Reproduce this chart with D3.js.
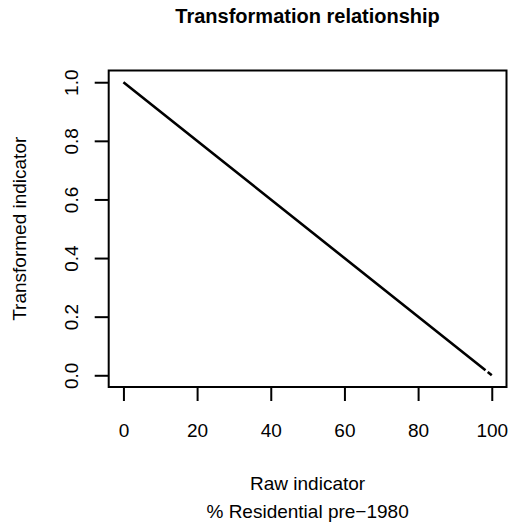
<!DOCTYPE html>
<html>
<head>
<meta charset="utf-8">
<script src="https://cdn.jsdelivr.net/npm/d3@7"></script>
<style>
  html, body { margin: 0; padding: 0; background: #fff; }
  svg text { font-family: "Liberation Sans", Arial, Helvetica, sans-serif; fill: #000; }
</style>
</head>
<body>
<svg id="chart" width="510" height="525"></svg>
<script>
// Raw indicator (% residential pre-1980) and its transformed score.
// A null entry marks a gap in the drawn curve.
const rawValues = [0, 25, 50, 75, 98.3, null, 98.9, 100];
const transformedValues = [1.0, 0.75, 0.5, 0.25, 0.017, null, 0.011, 0.0];

const xTicks = [0, 20, 40, 60, 80, 100];
const yTicks = [0.0, 0.2, 0.4, 0.6, 0.8, 1.0];
const yTickLabels = ["0.0", "0.2", "0.4", "0.6", "0.8", "1.0"];

const chartTitle = "Transformation relationship";
const xTitleLines = ["Raw indicator", "% Residential pre\u22121980"];
const yTitle = "Transformed indicator";

const svg = d3.select("#chart");
const fontSize = 19;

// Plot region with a 4% padding on each axis range
const x = d3.scaleLinear().domain([-4, 104]).range([108.7, 506.5]);
const y = d3.scaleLinear().domain([-0.04, 1.04]).range([387, 70.5]);

// Frame
svg.append("rect")
  .attr("x", x(-4)).attr("y", y(1.04))
  .attr("width", x(104) - x(-4)).attr("height", y(-0.04) - y(1.04))
  .attr("fill", "none").attr("stroke", "#000").attr("stroke-width", 2);

// Bottom axis
const xAxis = d3.axisBottom(x).tickValues(xTicks).tickSize(14)
  .tickFormat(d3.format("d"));
const gx = svg.append("g").attr("transform", `translate(0,${y(-0.04)})`).call(xAxis);
gx.select(".domain").remove();
gx.selectAll(".tick line").attr("stroke", "#000").attr("stroke-width", 2);
gx.selectAll(".tick text")
  .attr("font-size", fontSize)
  .attr("font-family", "Liberation Sans, Arial, sans-serif")
  .attr("fill", "#000")
  .attr("dy", null).attr("y", 50);

// Left axis with labels rotated parallel to the axis
const yAxis = d3.axisLeft(y).tickValues(yTicks).tickSize(14)
  .tickFormat((d, i) => yTickLabels[i]);
const gy = svg.append("g").attr("transform", `translate(${x(-4)},0)`).call(yAxis);
gy.select(".domain").remove();
gy.selectAll(".tick line").attr("stroke", "#000").attr("stroke-width", 2);
gy.selectAll(".tick text")
  .attr("font-size", fontSize)
  .attr("font-family", "Liberation Sans, Arial, sans-serif")
  .attr("fill", "#000")
  .attr("x", null).attr("dy", null)
  .attr("text-anchor", "middle")
  .attr("transform", `translate(${78 - x(-4)},0) rotate(-90)`);

// Transformation curve
const pts = rawValues.map((v, i) => ({ raw: v, t: transformedValues[i] }));
const line = d3.line()
  .defined(d => d.raw !== null && d.t !== null)
  .x(d => x(d.raw))
  .y(d => y(d.t));
svg.append("path")
  .datum(pts)
  .attr("d", line)
  .attr("fill", "none")
  .attr("stroke", "#000")
  .attr("stroke-width", 2.6);

// Titles
svg.append("text")
  .attr("x", (x(-4) + x(104)) / 2).attr("y", 22.5)
  .attr("text-anchor", "middle")
  .attr("font-size", 20)
  .attr("font-weight", "bold")
  .text(chartTitle);

svg.append("text")
  .attr("text-anchor", "middle")
  .attr("font-size", fontSize)
  .selectAll("tspan")
  .data(xTitleLines)
  .join("tspan")
  .attr("x", (x(-4) + x(104)) / 2)
  .attr("y", (d, i) => 490 + i * 27.5)
  .text(d => d);

svg.append("text")
  .attr("transform", `translate(26,${(y(-0.04) + y(1.04)) / 2}) rotate(-90)`)
  .attr("text-anchor", "middle")
  .attr("font-size", fontSize)
  .text(yTitle);
</script>
</body>
</html>
